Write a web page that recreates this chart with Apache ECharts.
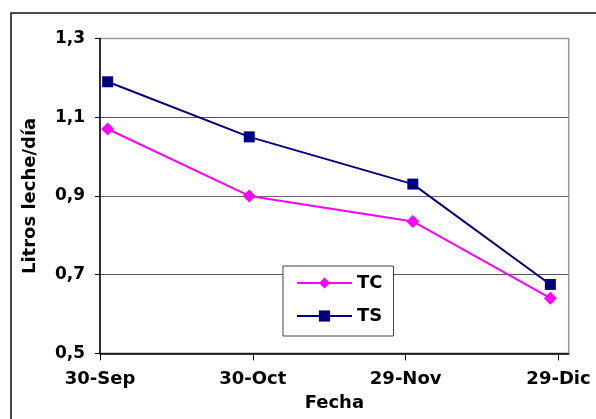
<!DOCTYPE html>
<html>
<head>
<meta charset="utf-8">
<script src="https://cdn.jsdelivr.net/npm/echarts@6/dist/echarts.min.js"></script>
<style>
  html, body { margin: 0; padding: 0; background: #fff; }
  #chart { width: 596px; height: 419px; }
</style>
</head>
<body>
<div id="chart"></div>
<script>
// Sampling dates, as days counted from 30-Sep
const sampleDays = [1.5, 29.3, 61.4, 88.4];
// Milk yield (litres per day) for each treatment
const tcValues = [1.07, 0.90, 0.835, 0.64];
const tsValues = [1.19, 1.05, 0.93, 0.675];
// Date axis ticks (days from 30-Sep) and their labels
const dateTickDays = [0, 30, 60, 90];
const dateTickLabels = ['30-Sep', '30-Oct', '29-Nov', '29-Dic'];
// Yield axis ticks
const yieldTicks = [0.5, 0.7, 0.9, 1.1, 1.3];

const FONT = 'DejaVu Sans';

const pair = (xs, ys) => xs.map((x, i) => [x, ys[i]]);

const chart = echarts.init(document.getElementById('chart'), null, { renderer: 'canvas' });

chart.setOption({
  animation: false,
  backgroundColor: '#ffffff',
  graphic: [{
    type: 'rect',
    shape: { x: 11, y: 13, width: 700, height: 600 },
    style: { fill: 'none', stroke: '#111', lineWidth: 1.5 },
    silent: true,
    z: 0
  }],
  grid: {
    left: 100, top: 38.5, right: 27.3, bottom: 65.7,
    show: true, borderColor: '#999', borderWidth: 1.5,
    backgroundColor: 'transparent'
  },
  legend: {
    orient: 'vertical',
    left: 283, top: 266,
    padding: [7, 11, 10, 13],
    itemWidth: 55, itemHeight: 14, itemGap: 13,
    backgroundColor: '#fff',
    borderColor: '#444', borderWidth: 1, borderRadius: 0,
    textStyle: { fontFamily: FONT, fontWeight: 'bold', fontSize: 18, color: '#000', lineHeight: 20 },
    data: ['TC', 'TS']
  },
  xAxis: {
    type: 'value',
    min: 0, max: 92,
    name: 'Fecha',
    nameLocation: 'middle',
    nameGap: 41,
    nameTextStyle: { fontFamily: FONT, fontWeight: 'bold', fontSize: 18, color: '#000' },
    axisLine: { show: true, lineStyle: { color: '#000', width: 1.5 } },
    axisTick: { show: true, length: 7, customValues: dateTickDays, lineStyle: { color: '#000', width: 1 } },
    axisLabel: {
      customValues: dateTickDays,
      margin: 17,
      fontFamily: FONT, fontWeight: 'bold', fontSize: 18, color: '#000',
      formatter: v => {
        const i = dateTickDays.indexOf(v);
        return i >= 0 ? dateTickLabels[i] : '';
      }
    },
    splitLine: { show: false }
  },
  yAxis: {
    type: 'value',
    min: 0.5, max: 1.3,
    name: 'Litros leche/día',
    nameLocation: 'middle',
    nameGap: 61,
    nameTextStyle: { fontFamily: FONT, fontWeight: 'bold', fontSize: 18, color: '#000' },
    axisLine: { show: true, lineStyle: { color: '#000', width: 1.5 } },
    axisTick: { show: true, length: 5, customValues: yieldTicks, lineStyle: { color: '#000', width: 1 } },
    axisLabel: {
      customValues: yieldTicks,
      margin: 15,
      fontFamily: FONT, fontWeight: 'bold', fontSize: 17, color: '#000',
      formatter: v => v.toFixed(1).replace('.', ',')
    },
    splitLine: { show: true, lineStyle: { color: ['#555', '#555', '#666', '#555', '#999'], width: 1 } }
  },
  series: [
    {
      name: 'TC',
      type: 'line',
      data: pair(sampleDays, tcValues),
      symbol: 'diamond',
      symbolSize: 13,
      color: '#ff00ff',
      lineStyle: { color: '#ff00ff', width: 2 },
      itemStyle: { color: '#ff00ff' },
      z: 3
    },
    {
      name: 'TS',
      type: 'line',
      data: pair(sampleDays, tsValues),
      symbol: 'rect',
      symbolSize: 11,
      color: '#000080',
      lineStyle: { color: '#000080', width: 2 },
      itemStyle: { color: '#000080' },
      z: 3
    }
  ]
});
</script>
</body>
</html>
